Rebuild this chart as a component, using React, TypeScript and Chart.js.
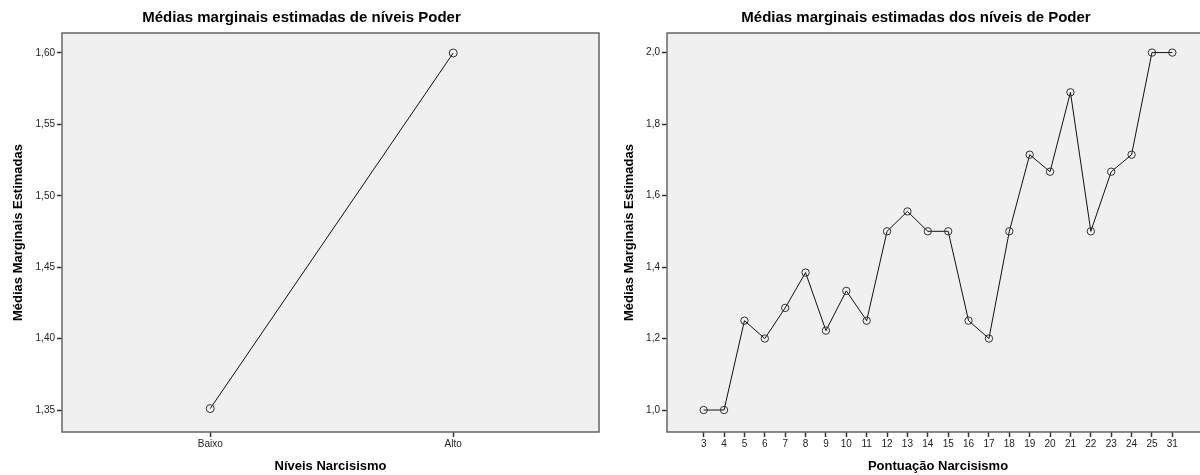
import React, { useEffect, useRef } from "react";
import { Chart, registerables } from "chart.js";

Chart.register(...registerables);

// ---------- data ----------
const leftCategories = ["Baixo", "Alto"];
const leftValues = [1.351, 1.6];
const leftYTicks = [1.35, 1.4, 1.45, 1.5, 1.55, 1.6];

const rightCategories = [
  "3", "4", "5", "6", "7", "8", "9", "10", "11", "12", "13", "14",
  "15", "16", "17", "18", "19", "20", "21", "22", "23", "24", "25", "31",
];
const rightValues = [
  1.0, 1.0, 1.25, 1.2, 1.2857, 1.3846, 1.2222, 1.3333, 1.25, 1.5, 1.5556, 1.5,
  1.5, 1.25, 1.2, 1.5, 1.7143, 1.6667, 1.8889, 1.5, 1.6667, 1.7143, 2.0, 2.0,
];
const rightYTicks = [1.0, 1.2, 1.4, 1.6, 1.8, 2.0];

const leftTitle = "Médias marginais estimadas de níveis Poder";
const rightTitle = "Médias marginais estimadas dos níveis de Poder";
const yTitle = "Médias Marginais Estimadas";
const leftXTitle = "Níveis Narcisismo";
const rightXTitle = "Pontuação Narcisismo";

// ---------- styling ----------
const FAMILY = "'Liberation Sans', Arial, sans-serif";

const framePlugin = {
  id: "frame",
  afterLayout(chart: any, _args: any, opts: any) {
    const dx = (opts && opts.titleShift) || 0;
    if (dx && chart.titleBlock) {
      chart.titleBlock.left += dx;
      chart.titleBlock.right += dx;
    }
  },
  beforeDraw(chart: any) {
    const { ctx, chartArea } = chart;
    const { left, top, right, bottom } = chartArea;
    ctx.save();
    ctx.fillStyle = "#f0f0f0";
    ctx.fillRect(left, top, right - left, bottom - top);
    ctx.restore();
  },
  afterDatasetsDraw(chart: any) {
    const { ctx, chartArea } = chart;
    const { left, top, right, bottom } = chartArea;
    ctx.save();
    ctx.strokeStyle = "#666";
    ctx.lineWidth = 1.5;
    ctx.strokeRect(left, top, right - left, bottom - top);
    ctx.restore();
  },
};

interface Cfg {
  categories: string[];
  values: number[];
  yTicks: number[];
  yMin: number;
  yMax: number;
  xMin: number;
  xMax: number;
  decimals: number;
  title: string;
  xTitle: string;
  yAxisWidth: number;
  padRight: number;
  pointRadius: number;
  titleShift: number;
}

function makeConfig(c: Cfg): any {
  const tickFont = { size: 10, family: FAMILY };
  const grid = {
    display: true,
    drawOnChartArea: false,
    drawTicks: true,
    tickLength: 5,
    tickColor: "#333",
    tickWidth: 1.5,
  };
  return {
    type: "line",
    data: {
      datasets: [
        {
          data: c.values.map((v, i) => ({ x: i, y: v })),
          borderColor: "#111",
          borderWidth: 1,
          tension: 0,
          pointRadius: c.pointRadius,
          pointBorderColor: "#333",
          pointBackgroundColor: "rgba(0,0,0,0)",
          pointBorderWidth: 1,
        },
      ],
    },
    options: {
      responsive: false,
      animation: false,
      devicePixelRatio: 1,
      layout: { padding: { left: 0, right: c.padRight, top: 0, bottom: 0 } },
      plugins: {
        legend: { display: false },
        tooltip: { enabled: false },
        frame: { titleShift: c.titleShift },
        title: {
          display: true,
          text: c.title,
          color: "#000",
          font: { size: 15, weight: "bold", family: FAMILY },
          padding: { top: 9, bottom: 6 },
        },
      },
      scales: {
        x: {
          type: "linear",
          min: c.xMin,
          max: c.xMax,
          afterBuildTicks: (s: any) => {
            s.ticks = c.categories.map((_, i) => ({ value: i }));
          },
          ticks: {
            autoSkip: false,
            maxRotation: 0,
            color: "#222",
            font: tickFont,
            padding: 1,
            callback: (v: any) => c.categories[Math.round(Number(v))] ?? "",
          },
          grid,
          border: { display: false },
          title: {
            display: true,
            text: c.xTitle,
            color: "#000",
            font: { size: 13, weight: "bold", family: FAMILY },
            padding: { top: 0, bottom: 1 },
          },
          afterFit: (s: any) => {
            s.height = 43;
          },
        },
        y: {
          type: "linear",
          min: c.yMin,
          max: c.yMax,
          afterBuildTicks: (s: any) => {
            s.ticks = c.yTicks.map((v) => ({ value: v }));
          },
          ticks: {
            color: "#222",
            font: tickFont,
            padding: 2,
            callback: (v: any) => Number(v).toFixed(c.decimals).replace(".", ","),
          },
          grid,
          border: { display: false },
          title: {
            display: true,
            text: yTitle,
            color: "#000",
            font: { size: 13, weight: "bold", family: FAMILY },
            padding: { top: 11, bottom: 0 },
          },
          afterFit: (s: any) => {
            s.width = c.yAxisWidth;
          },
        },
      },
    },
    plugins: [framePlugin],
  };
}

function ChartCanvas({ cfg, left, width }: { cfg: Cfg; left: number; width: number }) {
  const ref = useRef<HTMLCanvasElement | null>(null);
  useEffect(() => {
    if (!ref.current) return;
    const chart = new Chart(ref.current, makeConfig(cfg));
    return () => chart.destroy();
  }, []);
  return (
    <canvas
      ref={ref}
      width={width}
      height={475}
      style={{ position: "absolute", left, top: 0, width, height: 475 }}
    />
  );
}

const leftCfg: Cfg = {
  categories: leftCategories,
  values: leftValues,
  yTicks: leftYTicks,
  yMin: 1.3346,
  yMax: 1.614,
  xMin: -0.61,
  xMax: 1.6,
  decimals: 2,
  title: leftTitle,
  xTitle: leftXTitle,
  yAxisWidth: 62,
  padRight: 3,
  pointRadius: 4,
  titleShift: 1,
};

const rightCfg: Cfg = {
  categories: rightCategories,
  values: rightValues,
  yTicks: rightYTicks,
  yMin: 0.9385,
  yMax: 2.0548,
  xMin: -1.8,
  xMax: 24.8,
  decimals: 1,
  title: rightTitle,
  xTitle: rightXTitle,
  yAxisWidth: 56,
  padRight: 12,
  pointRadius: 3.7,
  titleShift: 6,
};

export default function App() {
  return (
    <div
      style={{
        position: "fixed",
        left: 0,
        top: 0,
        width: 1200,
        height: 475,
        overflow: "hidden",
        background: "#fff",
      }}
    >
      <ChartCanvas cfg={leftCfg} left={0} width={604} />
      <ChartCanvas cfg={rightCfg} left={611} width={610} />
    </div>
  );
}
